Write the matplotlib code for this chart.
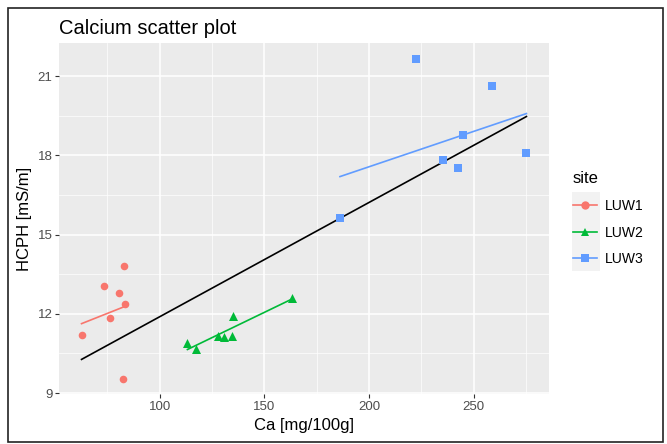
import numpy as np
import matplotlib.pyplot as plt
from matplotlib.lines import Line2D
from matplotlib.patches import Rectangle
from matplotlib.ticker import MultipleLocator

plt.rcParams['font.family'] = ['Liberation Sans', 'DejaVu Sans']

sites = ['LUW1', 'LUW2', 'LUW3']
colors = {'LUW1': '#F8766D', 'LUW2': '#00BA38', 'LUW3': '#619CFF'}
markers = {'LUW1': 'o', 'LUW2': '^', 'LUW3': 's'}
sizes = {'LUW1': 30, 'LUW2': 42, 'LUW3': 28}

ca_luw1 = [62.6, 73.2, 76.3, 80.7, 82.8, 83.3, 82.3]
hcph_luw1 = [11.18, 13.07, 11.83, 12.80, 13.82, 12.38, 9.55]
ca_luw2 = [113.2, 117.1, 127.9, 130.6, 134.4, 135.2, 163.2]
hcph_luw2 = [10.89, 10.65, 11.15, 11.12, 11.16, 11.91, 12.60]
ca_luw3 = [186.1, 222.6, 235.2, 242.7, 245.1, 258.6, 275.2]
hcph_luw3 = [15.61, 21.66, 17.83, 17.51, 18.77, 20.61, 18.10]

ca = {'LUW1': ca_luw1, 'LUW2': ca_luw2, 'LUW3': ca_luw3}
hcph = {'LUW1': hcph_luw1, 'LUW2': hcph_luw2, 'LUW3': hcph_luw3}

fig = plt.figure(figsize=(6.67, 4.44), dpi=100)
ax = fig.add_axes([0.0889, 0.1115, 0.7337, 0.7923])
ax.set_facecolor('#EBEBEB')

# per-site linear fits
for s in sites:
    x = np.array(ca[s])
    y = np.array(hcph[s])
    k, b = np.polyfit(x, y, 1)
    xs = np.array([x.min(), x.max()])
    ax.plot(xs, k * xs + b, color=colors[s], lw=1.2, zorder=3)

# overall linear fit
all_x = np.concatenate([ca[s] for s in sites])
all_y = np.concatenate([hcph[s] for s in sites])
k, b = np.polyfit(all_x, all_y, 1)
xs = np.array([all_x.min(), all_x.max()])
ax.plot(xs, k * xs + b, color='black', lw=1.2, zorder=3)

for s in sites:
    ax.scatter(ca[s], hcph[s], marker=markers[s], s=sizes[s], color=colors[s],
               linewidths=0, zorder=4)

# ggplot-style limits with 5% expansion
xr = all_x.max() - all_x.min()
yr = all_y.max() - all_y.min()
ax.set_xlim(all_x.min() - 0.05 * xr, all_x.max() + 0.05 * xr)
ax.set_ylim(all_y.min() - 0.05 * yr, all_y.max() + 0.05 * yr)

ax.xaxis.set_major_locator(MultipleLocator(50))
ax.xaxis.set_minor_locator(MultipleLocator(25))
ax.yaxis.set_major_locator(MultipleLocator(3))
ax.yaxis.set_minor_locator(MultipleLocator(1.5))
ax.grid(which='major', color='white', lw=1.1, zorder=0)
ax.grid(which='minor', color='white', lw=0.5, zorder=0)
ax.set_axisbelow(True)
for sp in ax.spines.values():
    sp.set_visible(False)
ax.tick_params(which='major', length=3, width=0.8, color='#333333',
               labelcolor='#4D4D4D', labelsize=9.5, pad=2)
ax.tick_params(which='minor', length=0)

ax.set_xlabel('Ca [mg/100g]', fontsize=12, labelpad=3)
ax.set_ylabel('HCPH [mS/m]', fontsize=12, labelpad=4)
ax.set_title('Calcium scatter plot', fontsize=14.5, loc='left', pad=6)

# legend
fig.patches.append(Rectangle((572 / 667, 1 - 271 / 444), 28 / 667, 79 / 444,
                             transform=fig.transFigure, facecolor='#F2F2F2',
                             edgecolor='none', zorder=0))
handles = [Line2D([], [], color=colors[s], marker=markers[s], lw=1.2,
                  markersize=6, markeredgewidth=0) for s in sites]
leg = fig.legend(handles, sites, title='site', loc='upper left',
                 bbox_to_anchor=(573 / 667, 1 - 171 / 444), frameon=False,
                 fontsize=10, title_fontsize=12, handlelength=1.75,
                 handletextpad=0.55, labelspacing=0.92, borderpad=0,
                 borderaxespad=0, alignment='left')

# outer frame
fig.patches.append(Rectangle((8 / 667, 2 / 444), 655 / 667, 434 / 444,
                             transform=fig.transFigure, fill=False,
                             edgecolor='#222222', lw=1.2))

fig.savefig('out.png', dpi=100)
